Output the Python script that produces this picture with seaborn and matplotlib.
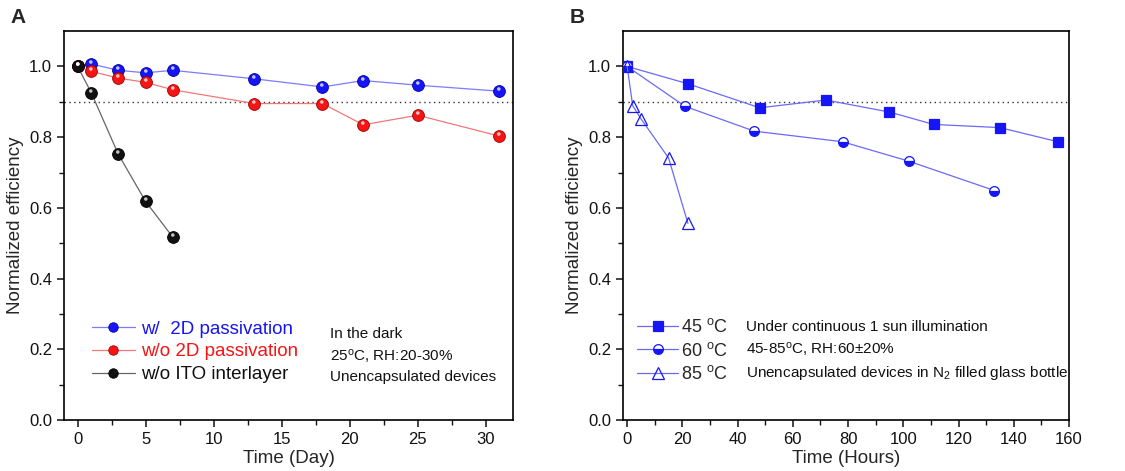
import seaborn as sns
import matplotlib
matplotlib.use('Agg')
import matplotlib.pyplot as plt
from matplotlib.path import Path
from matplotlib.markers import MarkerStyle

sns.set_style('ticks')
plt.rcParams['font.family'] = ['Liberation Sans', 'DejaVu Sans']
plt.rcParams['mathtext.fontset'] = 'custom'
plt.rcParams['mathtext.rm'] = 'Liberation Sans'
plt.rcParams['mathtext.it'] = 'Liberation Sans:italic'

# panel A: dark storage, days
day_2d = [0, 1, 3, 5, 7, 13, 18, 21, 25, 31]
eff_2d = [1.0, 1.007, 0.989, 0.982, 0.989, 0.965, 0.942, 0.96, 0.947, 0.93]
day_no2d = [0, 1, 3, 5, 7, 13, 18, 21, 25, 31]
eff_no2d = [1.0, 0.986, 0.967, 0.955, 0.934, 0.895, 0.895, 0.835, 0.862, 0.803]
day_noito = [0, 1, 3, 5, 7]
eff_noito = [1.0, 0.926, 0.751, 0.618, 0.517]

# panel B: 1 sun illumination, hours
hr_45 = [0, 22, 48, 72, 95, 111, 135, 156]
eff_45 = [1.0, 0.951, 0.883, 0.905, 0.871, 0.836, 0.827, 0.787]
hr_60 = [0, 21, 46, 78, 102, 133]
eff_60 = [1.0, 0.887, 0.817, 0.787, 0.732, 0.649]
hr_85 = [0, 2, 5, 15, 22]
eff_85 = [1.0, 0.889, 0.852, 0.741, 0.556]

fig = plt.figure(figsize=(11.25, 4.71), dpi=100)
axA = fig.add_axes([0.0569, 0.1083, 0.399, 0.8257])
axB = fig.add_axes([0.5538, 0.1083, 0.3964, 0.8257])

blue = '#1515f5'
red = '#f51515'

# small glossy spot drawn on top of the balls (kept to the ball's scale by the anchor point)
spot = Path.make_compound_path(Path([(0, -1)], [Path.MOVETO]),
                               Path.circle(center=(-0.12, 0.42), radius=0.3))
spot_marker = MarkerStyle(spot)

seriesA = [
    (day_2d, eff_2d, 'w/  2D passivation', '#7b7bff', blue, '#0000a0'),
    (day_no2d, eff_no2d, 'w/o 2D passivation', '#f07878', red, '#a00000'),
    (day_noito, eff_noito, 'w/o ITO interlayer', '#666666', '#111111', '#000000'),
]
for x, y, lab, lc, mc, ec in seriesA:
    sns.lineplot(x=x, y=y, ax=axA, color=lc, lw=0.9, marker='o', markersize=8.5,
                 markerfacecolor=mc, markeredgecolor=ec, markeredgewidth=0.6,
                 label=lab, zorder=3)
    sns.scatterplot(x=x, y=y, ax=axA, marker=spot_marker, s=8.5 ** 2, color='white',
                    alpha=0.75, linewidth=0, zorder=4, legend=False)

seriesB = [
    (hr_45, eff_45, '45 $^{\\rm o}$C', 's', 'full', 6.5),
    (hr_60, eff_60, '60 $^{\\rm o}$C', 'o', 'bottom', 7),
    (hr_85, eff_85, '85 $^{\\rm o}$C', '^', 'none', 8),
]
for x, y, lab, mk, fs, ms in seriesB:
    sns.lineplot(x=x, y=y, ax=axB, color='#6a6af5', lw=0.9, marker=mk, markersize=ms,
                 fillstyle=fs, markerfacecolor=blue, markerfacecoloralt='white',
                 markeredgecolor=blue, markeredgewidth=0.9, label=lab, zorder=3)

for ax in (axA, axB):
    ax.axhline(0.9, ls=(0, (1, 2.5)), color='#333333', lw=1, zorder=1)
    ax.set_ylim(0, 1.1)
    ax.set_yticks([0, 0.2, 0.4, 0.6, 0.8, 1.0])
    ax.set_yticks([0.1, 0.3, 0.5, 0.7, 0.9], minor=True)
    ax.set_ylabel('Normalized efficiency', fontsize=13.5)
    for s in ax.spines.values():
        s.set_visible(True)
        s.set_linewidth(1.2)
        s.set_color('black')
    ax.tick_params(which='major', direction='out', length=5, width=1.1, labelsize=12,
                   colors='#111111')
    ax.tick_params(which='minor', direction='out', length=3.5, width=1.0, color='#111111',
                   bottom=True, left=True)
    ax.grid(False)

axA.set_xlim(-1, 32)
axA.set_xticks([0, 5, 10, 15, 20, 25, 30])
axA.set_xticks([2.5, 7.5, 12.5, 17.5, 22.5, 27.5], minor=True)
axA.set_xlabel('Time (Day)', fontsize=13.5, labelpad=2)

axB.set_xlim(-1.5, 160)
axB.set_xticks(range(0, 161, 20))
axB.set_xticks(range(10, 160, 20), minor=True)
axB.set_xlabel('Time (Hours)', fontsize=13.5, labelpad=2)

legA = axA.legend(loc='center left', bbox_to_anchor=(0.062, 0.175), frameon=False,
                  fontsize=13.5, handlelength=2.3, handletextpad=0.3, borderpad=0,
                  borderaxespad=0, labelspacing=0.3, markerscale=0.8)
for t, c in zip(legA.get_texts(), [blue, red, '#111111']):
    t.set_color(c)

axB.legend(loc='center left', bbox_to_anchor=(0.031, 0.178), frameon=False,
           fontsize=13, handlelength=2.3, handletextpad=0.15, borderpad=0,
           borderaxespad=0, labelspacing=0.3)

axA.text(0.592, 0.166, 'In the dark\n25$^{\\rm o}$C, RH:20-30%\nUnencapsulated devices',
         transform=axA.transAxes, fontsize=11, va='center', ha='left',
         linespacing=1.45, color='#111111')
axB.text(0.275, 0.177, 'Under continuous 1 sun illumination\n45-85$^{\\rm o}$C, RH:60\u00b120%\n'
         'Unencapsulated devices in N$_2$ filled glass bottle',
         transform=axB.transAxes, fontsize=11, va='center', ha='left',
         linespacing=1.45, color='#111111')

fig.text(0.009, 0.962, 'A', fontsize=15, weight='bold', va='center')
fig.text(0.506, 0.962, 'B', fontsize=15, weight='bold', va='center')

fig.savefig('out.png', dpi=100)
